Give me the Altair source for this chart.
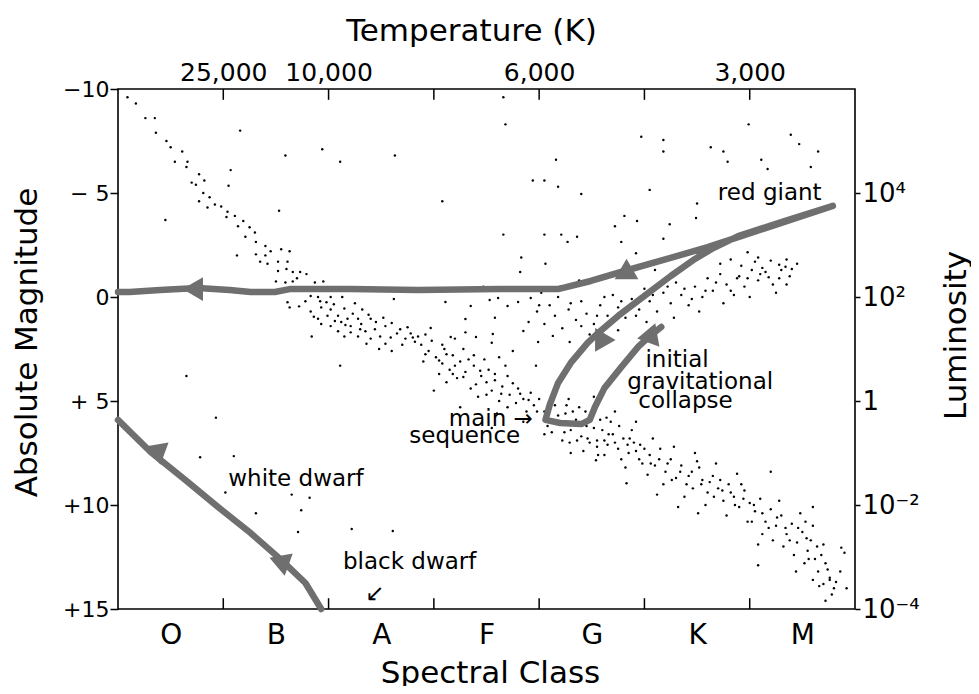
import altair as alt
import pandas as pd

FONT = "DejaVu Sans"
GRAY = "#6f6f6f"

# ---------------- axes content ----------------
spectral_classes = ["O", "B", "A", "F", "G", "K", "M"]
spectral_centers = [0.5, 1.5, 2.5, 3.5, 4.5, 5.5, 6.5]
class_bounds = [1, 2, 3, 4, 5, 6]
temp_positions = [1, 2, 4, 6]
temp_labels = ["25,000", "10,000", "6,000", "3,000"]
mag_ticks = [-10, -5, 0, 5, 10, 15]
mag_labels = ["−10", "− 5", "0", "+ 5", "+10", "+15"]
lum_ticks = [-5, 0, 5, 10, 15]
lum_labels = ["10⁴", "10²", "1", "10⁻²", "10⁻⁴"]

# ---------------- stars (spectral position, absolute magnitude) ----------------
main_sequence = [
    (0.09, -9.6), (0.17, -9.3), (0.26, -8.6), (0.35, -8.6), (0.36, -7.9), (0.46, -7.5), (0.50, -7.2),
    (0.61, -7.0), (0.54, -6.5), (0.66, -6.5), (0.65, -6.25), (0.77, -5.9), (0.70, -5.5), (0.74, -5.4),
    (0.82, -5.6), (0.81, -5.0), (0.87, -4.8), (0.77, -4.6), (0.85, -4.3), (0.92, -4.45), (0.98, -4.35),
    (1.04, -4.1), (1.11, -3.9), (1.03, -3.85), (1.19, -3.65), (1.25, -3.35), (1.14, -3.4), (1.30, -3.1),
    (1.21, -2.9), (1.31, -2.65), (1.40, -2.45), (1.31, -2.05), (1.40, -2.0), (1.45, -2.2), (1.55, -2.3),
    (1.63, -2.2), (1.52, -1.7), (1.61, -1.7), (1.35, -1.7), (1.42, -1.6), (1.52, -1.25), (1.60, -1.35),
    (1.66, -1.2), (1.73, -1.2), (1.79, -1.1), (1.50, -0.75), (1.59, -0.7), (1.66, -0.75), (1.87, -0.7),
    (1.95, -0.75), (1.61, 0.25), (1.63, 0.5), (1.78, 0.2), (1.83, -0.05), (1.90, 0.0), (1.98, 0.25),
    (2.02, 0.0), (2.13, 0.0), (1.83, 0.7), (1.93, 0.5), (2.02, 0.6), (1.90, 1.05), (1.99, 0.9),
    (2.09, 0.9), (2.18, 1.05), (2.23, 0.8), (2.28, 1.05), (2.02, 1.4), (2.12, 1.2), (2.21, 1.4),
    (2.31, 1.3), (2.40, 1.05), (1.93, 1.3), (2.09, 1.65), (2.21, 1.7), (2.35, 1.65), (2.44, 1.55),
    (2.54, 1.4), (2.49, 1.9), (2.59, 1.95), (2.68, 1.55), (2.75, 1.45), (2.73, 2.0), (2.80, 1.95),
    (2.36, 2.25), (2.54, 2.25), (2.82, 2.15),
    (2.88, 2.3), (2.95, 2.6), (3.02, 2.9), (2.90, 3.1), (3.10, 2.5), (3.08, 3.2), (3.18, 2.8), (3.25, 3.1),
    (3.15, 3.5), (3.30, 3.6), (3.22, 3.9), (3.38, 3.3), (3.45, 3.8), (3.40, 4.2), (3.52, 3.5), (3.58, 4.0),
    (3.55, 4.5), (3.65, 4.3), (3.70, 3.8), (3.72, 4.7), (3.80, 4.4), (3.85, 4.9), (3.78, 5.1), (3.92, 4.6),
    (3.95, 5.2), (4.00, 4.9), (3.05, 3.7), (3.35, 4.4), (3.62, 5.0), (3.88, 5.5), (2.98, 2.1), (3.28, 2.5),
    (3.48, 3.0), (3.68, 3.3), (3.12, 4.1), (3.42, 4.8), (3.00, 4.5), (3.60, 5.6), (3.85, 6.0),
    (2.92, 1.8), (3.20, 2.0), (3.55, 2.2), (3.75, 2.6), (3.97, 3.3), (3.30, 1.7),
    (3.25, 5.3), (3.55, 6.3), (4.05, 6.6), (4.30, 7.5), (4.55, 7.2),
    (4.05, 5.5), (4.10, 5.9), (4.15, 5.2), (4.20, 6.1), (4.25, 5.6), (4.30, 6.4), (4.35, 5.9), (4.40, 6.7),
    (4.45, 6.2), (4.50, 5.7), (4.55, 6.9), (4.60, 6.4), (4.65, 7.1), (4.70, 6.6), (4.75, 7.3), (4.80, 6.8),
    (4.85, 7.5), (4.90, 7.0), (4.95, 7.8), (5.00, 7.3), (4.12, 6.5), (4.28, 4.9), (4.38, 5.3), (4.48, 7.0),
    (4.58, 5.9), (4.68, 6.0), (4.78, 7.8), (4.88, 6.4), (4.98, 8.0), (4.22, 6.9), (4.42, 7.4), (4.62, 7.6),
    (4.82, 8.2), (4.52, 4.8), (4.72, 5.5), (4.92, 6.0),
    (5.05, 7.6), (5.10, 8.1), (5.15, 7.3), (5.20, 8.4), (5.25, 7.8), (5.30, 8.7), (5.35, 8.1), (5.40, 9.0),
    (5.45, 8.4), (5.50, 7.9), (5.55, 8.8), (5.60, 9.4), (5.65, 8.6), (5.70, 9.2), (5.75, 9.8), (5.80, 9.0),
    (5.85, 9.6), (5.90, 10.1), (5.95, 9.3), (6.00, 9.9), (5.08, 6.8), (5.28, 7.2), (5.48, 7.5), (5.68, 8.0),
    (5.88, 8.5), (5.18, 9.0), (5.38, 9.6), (5.58, 10.0), (5.78, 10.5), (5.98, 10.8), (5.12, 9.5),
    (5.32, 10.1), (5.52, 8.2), (5.72, 8.8), (5.92, 9.0),
    (6.05, 10.3), (6.10, 9.7), (6.15, 10.8), (6.20, 10.2), (6.25, 11.0), (6.30, 10.5), (6.35, 11.4),
    (6.40, 10.9), (6.45, 11.8), (6.50, 11.3), (6.55, 12.2), (6.58, 11.7), (6.62, 12.6), (6.65, 13.2),
    (6.68, 12.4), (6.70, 13.8), (6.74, 13.1), (6.78, 14.3), (6.72, 14.6), (6.82, 13.7), (6.12, 11.4),
    (6.22, 11.7), (6.32, 12.0), (6.42, 12.4), (6.52, 12.8), (6.60, 13.6), (6.28, 9.8), (6.48, 10.4),
    (6.60, 11.0), (6.70, 11.9), (6.86, 13.2), (6.90, 12.3), (6.92, 14.0), (6.08, 11.9), (6.44, 13.2),
    (6.02, 10.8),
    (6.87, 12.05), (6.76, 13.5), (6.60, 10.1), (6.20, 8.4), (6.53, 10.8), (6.08, 12.9), (5.51, 10.4),
    (4.83, 8.95), (5.03, 8.55), (4.54, 7.85), (4.29, 7.0),
]

main_sequence_core = [
    (1.70, -0.9), (1.76, -0.4), (1.85, -0.3), (1.92, 0.2), (2.05, 0.35), (2.15, 0.55), (2.25, 0.3),
    (2.32, 0.6), (2.38, 0.85), (2.45, 1.2), (2.52, 1.0), (2.60, 1.25), (2.65, 1.75), (2.70, 2.3),
    (2.78, 1.75), (2.85, 1.9), (2.48, 2.5), (2.60, 2.6), (2.15, 1.9), (2.28, 1.9), (2.40, 2.0),
    (1.72, 0.45), (1.86, 0.95), (2.06, 1.15), (2.16, 1.35), (2.30, 1.55),
    (2.92, 2.75), (3.05, 3.05), (3.12, 2.75), (3.20, 3.3), (3.28, 3.85), (3.33, 3.0), (3.44, 3.55),
    (3.50, 4.1), (3.58, 3.7), (3.64, 4.65), (3.75, 4.15), (3.82, 4.65), (3.90, 4.95), (3.98, 5.5),
    (3.70, 5.3), (3.50, 4.7), (3.18, 3.7), (3.08, 2.3), (3.38, 2.8), (3.62, 2.9),
    (4.08, 6.2), (4.18, 5.7), (4.24, 6.5), (4.32, 5.5), (4.36, 6.9), (4.42, 6.0), (4.46, 6.8),
    (4.52, 6.3), (4.56, 7.6), (4.62, 6.9), (4.66, 6.6), (4.72, 7.0), (4.76, 6.2), (4.84, 7.1),
    (4.86, 6.8), (4.92, 7.4), (4.96, 7.1), (4.64, 5.8), (4.44, 5.5), (4.26, 5.2),
    (5.06, 8.0), (5.14, 7.8), (5.22, 8.0), (5.26, 8.8), (5.34, 8.4), (5.42, 8.6), (5.46, 9.2),
    (5.54, 9.0), (5.62, 8.9), (5.66, 9.6), (5.74, 9.3), (5.82, 9.4), (5.86, 10.0), (5.94, 9.7),
    (6.04, 10.0), (6.12, 10.4), (6.18, 11.1), (6.26, 10.6), (6.34, 11.1), (6.38, 11.7), (6.46, 11.1),
    (6.54, 11.6), (6.56, 12.6), (6.64, 12.0), (6.72, 12.8), (6.76, 13.6), (6.80, 14.0), (6.66, 13.9),
]

giant_branch = [
    (3.90, 1.2), (3.98, 0.7), (4.05, 1.3), (4.10, 0.4), (4.15, 0.9), (4.22, 1.5), (4.28, 0.6), (4.35, 1.1),
    (4.40, 0.2), (4.45, 0.8), (4.52, 1.3), (4.58, 0.4), (4.65, 0.9), (4.70, -0.1), (4.75, 0.5), (4.82, 1.0),
    (4.88, 0.1), (4.95, 0.6), (5.00, -0.4), (5.05, 0.2), (5.12, 0.7), (5.18, -0.2), (5.25, 0.3), (5.30, -0.7),
    (5.35, -0.1), (5.42, 0.4), (5.48, -0.5), (5.55, 0.0), (5.60, -0.9), (5.65, -0.3), (5.72, -1.1),
    (5.78, -0.6), (5.85, -0.1), (5.90, -1.0), (5.95, -0.5), (6.02, -1.3), (6.08, -0.8), (6.15, -1.2),
    (6.22, -0.6), (6.30, -1.3), (6.38, -1.0), (4.02, -0.2), (4.20, -0.5), (4.38, -0.8), (4.60, -1.0),
    (4.85, -1.2), (5.10, -1.3), (4.48, 1.8), (4.75, 1.6), (5.02, 1.2), (5.28, 1.0), (5.52, 0.7),
    (5.75, 0.3), (6.00, 0.0), (6.25, -0.2), (5.72, -1.6), (5.82, -1.8), (5.92, -1.5), (6.05, -1.7),
    (6.12, -1.4), (6.20, -1.75), (6.28, -1.55), (6.35, -1.8), (6.40, -1.35), (6.45, -1.6), (5.88, -0.9),
    (6.18, -0.95), (6.35, -0.6),
    (3.11, 0.24), (3.35, 0.43), (3.53, 0.14), (3.61, 0.05), (3.70, 0.43), (3.80, 0.24), (3.92, 0.05),
    (3.30, 1.06), (3.58, 1.0), (2.97, 1.49), (3.16, 1.92), (3.40, 1.92), (3.56, 1.78), (3.85, 1.63),
    (3.99, 2.16), (4.13, 1.87), (4.29, 2.16),
    (4.62, 0.0), (4.78, 0.2), (4.92, 0.9), (5.08, -0.1), (5.22, -0.5), (5.38, -0.4), (5.45, 0.1),
    (5.58, -0.3), (5.68, -0.7), (5.82, -0.3), (5.98, -0.9), (6.10, -1.1), (6.28, -0.9), (4.30, 0.3),
    (4.18, 0.0), (4.00, 0.4), (4.40, 1.4), (4.55, 0.9),
]

scattered = [
    (3.66, -9.6), (3.68, -8.3), (4.97, -7.7), (5.18, -7.55), (5.18, -7.0), (5.63, -7.2), (5.75, -7.0),
    (5.99, -8.3), (6.39, -7.8), (6.47, -7.35), (6.65, -7.0), (6.11, -6.6), (5.79, -6.5), (6.17, -6.15),
    (6.58, -6.25), (4.16, -6.6), (3.94, -5.6), (4.05, -5.6), (4.18, -5.3), (4.40, -4.95), (5.05, -5.15),
    (3.08, -4.6), (5.50, -4.5), (5.49, -3.8), (4.81, -3.9), (4.93, -3.65), (5.24, -3.5), (4.72, -3.4),
    (3.66, -3.0), (4.05, -3.0), (4.21, -3.0), (4.36, -2.9), (4.27, -2.65), (4.78, -2.65), (5.18, -2.8),
    (3.83, -1.9), (4.06, -1.6), (3.82, -1.2), (3.47, -0.5), (4.92, -2.1), (5.98, -2.15), (6.08, -1.9),
    (6.34, -1.45), (1.16, -8.0), (1.59, -6.8), (1.94, -7.1), (2.11, -6.5), (2.63, -6.8), (1.07, -6.1),
    (1.05, -5.35), (1.53, -4.15), (0.45, -3.7), (1.13, -2.0), (1.84, 1.9), (2.62, 0.1),
    (0.65, 3.8), (0.93, 5.8), (0.78, 7.7), (1.10, 7.65), (1.02, 9.4), (1.65, 9.5), (1.82, 9.65),
    (1.74, 10.25), (1.31, 10.4), (1.71, 11.3), (2.22, 11.15), (2.61, 11.25), (2.11, 3.3),
]

# ---------------- evolutionary tracks ----------------
track_evolution = [
    (5.16, 1.44), (5.05, 1.88), (4.94, 2.40), (4.78, 3.37), (4.62, 4.38), (4.53, 5.29), (4.48, 5.91),
    (4.40, 6.11), (4.20, 6.06), (4.06, 5.91), (4.10, 5.19), (4.18, 4.13), (4.30, 3.17), (4.46, 2.21),
    (4.56, 1.73), (4.75, 0.91), (5.00, -0.05), (5.25, -1.01), (5.48, -1.83), (5.64, -2.31), (5.89, -2.93),
    (6.33, -3.65), (6.79, -4.38), (6.33, -3.61), (5.89, -2.88), (5.60, -2.40), (5.38, -2.07), (4.81, -1.25),
    (4.49, -0.77), (4.18, -0.38), (3.63, -0.38), (2.85, -0.34), (2.20, -0.38), (1.63, -0.38), (1.49, -0.24),
    (1.26, -0.24), (1.06, -0.34), (0.76, -0.43), (0.40, -0.34), (0.11, -0.24), (0.0, -0.24),
]
track_white_dwarf = [
    (0.0, 5.91), (0.31, 7.45), (0.64, 8.80), (0.95, 10.10), (1.26, 11.35), (1.55, 12.64), (1.78, 13.75),
    (1.93, 15.0),
]

# arrowheads on the tracks: (x, magnitude, shape, angle)
arrowheads = [
    (0.71, -0.38, "triangle-left", 0),
    (4.83, -1.35, "triangle-up", 0),
    (4.58, 1.92, "triangle-up", 330),
    (5.07, 1.73, "triangle-up", 20),
    (0.35, 7.36, "triangle-left", 20),
    (1.53, 12.7, "triangle-left", 20),
]

# annotations: (text, x, magnitude)
labels_center = [
    ("red giant", 6.19, -4.66),
    ("initial", 5.31, 3.38),
    ("gravitational", 5.53, 4.42),
    ("collapse", 5.39, 5.33),
    ("white dwarf", 1.69, 9.09),
    ("black dwarf", 2.77, 13.08),
    ("↙", 2.44, 14.6),
]
labels_right = [
    ("main →", 3.94, 6.22),
    ("sequence", 3.82, 7.04),
]


def label_expr(values, labels):
    parts = [f"datum.value == {v} ? '{l}'" for v, l in zip(values, labels)]
    return " : ".join(parts) + " : ''"


# ---------------- data frames ----------------
stars = pd.DataFrame(main_sequence + main_sequence_core + giant_branch + scattered,
                     columns=["x", "mag"])

track_rows = []
for i, (x, m) in enumerate(track_evolution):
    track_rows.append({"x": x, "mag": m, "track": "evolution", "order": i})
for i, (x, m) in enumerate(track_white_dwarf):
    track_rows.append({"x": x, "mag": m, "track": "white dwarf", "order": i})
tracks = pd.DataFrame(track_rows)

heads = pd.DataFrame(arrowheads, columns=["x", "mag", "shape", "angle"])

tick_rows = [{"x": b, "y": 15, "y2": 14.48} for b in class_bounds] + \
            [{"x": b, "y": -10, "y2": -9.48} for b in class_bounds]
inner_ticks = pd.DataFrame(tick_rows)

text_c = pd.DataFrame(labels_center, columns=["label", "x", "mag"])
text_r = pd.DataFrame(labels_right, columns=["label", "x", "mag"])

xs = alt.Scale(domain=[0, 7], nice=False, zero=False)
ys = alt.Scale(domain=[-10, 15], reverse=True, nice=False, zero=False)

common_axis = dict(labelFont=FONT, titleFont=FONT, labelColor="black", titleColor="black",
                   tickColor="black", titleFontWeight="normal", labelFontWeight="normal",
                   domain=False, grid=False, labelFlush=False, labelOverlap=False)

# ---------------- layers ----------------
star_layer = alt.Chart(stars).mark_circle(size=6, color="black", opacity=1).encode(
    x=alt.X("x:Q", scale=xs, axis=alt.Axis(
        orient="bottom", values=spectral_centers,
        labelExpr=label_expr(spectral_centers, spectral_classes),
        ticks=False, tickSize=0, labelAngle=0,
        labelFontSize=28, labelPadding=34, labelBaseline="alphabetic",
        title="Spectral Class", titleFontSize=31, titleX=372, titleY=73,
        titleBaseline="alphabetic", titleAlign="center", **common_axis)),
    y=alt.Y("mag:Q", scale=ys, axis=alt.Axis(
        orient="left", values=mag_ticks, labelExpr=label_expr(mag_ticks, mag_labels),
        tickSize=8, tickWidth=1.5,
        labelFontSize=22, labelPadding=1,
        title="Absolute Magnitude", titleFontSize=31, titleAngle=270,
        titleX=-82, titleY=253, titleBaseline="alphabetic", titleAlign="center", **common_axis)),
)

track_layer = alt.Chart(tracks).mark_line(color=GRAY, strokeWidth=6.5,
                                          strokeCap="round", strokeJoin="round").encode(
    x=alt.X("x:Q", scale=xs, axis=None),
    y=alt.Y("mag:Q", scale=ys, axis=None),
    detail="track:N",
    order="order:Q",
)

head_layer = alt.Chart(heads).mark_point(filled=True, color=GRAY, opacity=1, size=560).encode(
    x=alt.X("x:Q", scale=xs, axis=None),
    y=alt.Y("mag:Q", scale=ys, axis=None),
    shape=alt.Shape("shape:N", scale=None),
    angle=alt.Angle("angle:Q", scale=None),
)

tick_layer = alt.Chart(inner_ticks).mark_rule(color="black", strokeWidth=1.5).encode(
    x=alt.X("x:Q", scale=xs, axis=alt.Axis(
        orient="top", values=temp_positions, labelExpr=label_expr(temp_positions, temp_labels),
        ticks=False, tickSize=0, labelAngle=0,
        labelFontSize=25, labelPadding=9, labelBaseline="alphabetic",
        title="Temperature (K)", titleFontSize=31, titleX=353, titleY=-49,
        titleBaseline="alphabetic", titleAlign="center", **common_axis)),
    y=alt.Y("y:Q", scale=ys, axis=alt.Axis(
        orient="right", values=lum_ticks, labelExpr=label_expr(lum_ticks, lum_labels),
        tickSize=5, tickWidth=1.5,
        labelFontSize=26, labelPadding=2,
        title="Luminosity", titleFontSize=31, titleAngle=270,
        titleX=110, titleY=246, titleBaseline="alphabetic", titleAlign="center", **common_axis)),
    y2="y2:Q",
)

text_center_layer = alt.Chart(text_c).mark_text(
    font=FONT, fontSize=23, align="center", baseline="alphabetic", color="black").encode(
    x=alt.X("x:Q", scale=xs, axis=None),
    y=alt.Y("mag:Q", scale=ys, axis=None),
    text="label:N",
)

text_right_layer = alt.Chart(text_r).mark_text(
    font=FONT, fontSize=23, align="right", baseline="alphabetic", color="black").encode(
    x=alt.X("x:Q", scale=xs, axis=None),
    y=alt.Y("mag:Q", scale=ys, axis=None),
    text="label:N",
)

chart = alt.layer(
    star_layer, track_layer, head_layer, tick_layer, text_center_layer, text_right_layer
).resolve_axis(
    x="independent", y="independent"
).properties(
    width=737, height=520,
    padding={"left": 110, "top": 81, "right": 116, "bottom": 77},
    autosize=alt.AutoSizeParams(type="none"),
    background="white",
).configure_view(
    stroke="black", strokeWidth=1.6
).configure_axis(
    labelFont=FONT, titleFont=FONT, labelColor="black", titleColor="black",
    tickColor="black", titleFontWeight="normal", labelFontWeight="normal",
)

chart.save("out.html", embed_options={"renderer": "svg", "actions": False})
